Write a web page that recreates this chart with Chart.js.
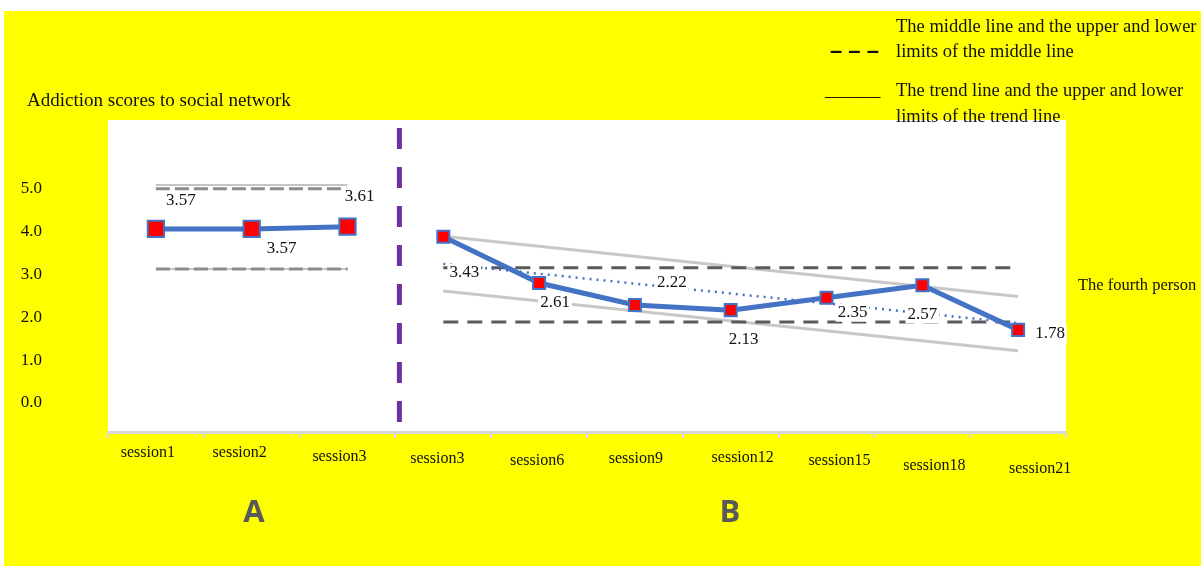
<!DOCTYPE html>
<html>
<head>
<meta charset="utf-8">
<script src="https://cdn.jsdelivr.net/npm/chart.js@4.4.1/dist/chart.umd.min.js"></script>
<style>
  html, body { margin: 0; padding: 0; background: #ffffff; }
  canvas { display: block; }
</style>
</head>
<body>
<canvas id="chart" width="1201" height="566"></canvas>
<script>
// Sessions of the baseline (A) and intervention (B) phases
const sessions = ['session1', 'session2', 'session3', 'session3', 'session6', 'session9', 'session12', 'session15', 'session18', 'session21'];

// Addiction scores of the fourth person
const phaseA = [3.57, 3.57, 3.61, null, null, null, null, null, null, null];
const phaseB = [null, null, null, 3.43, 2.61, 2.22, 2.13, 2.35, 2.57, 1.78];

// Phase A: upper and lower limits of the middle line
const aUpperSolid = [4.35, 4.35, 4.35, null, null, null, null, null, null, null];
const aUpperDashed = [4.28, 4.28, 4.28, null, null, null, null, null, null, null];
const aLower = [2.86, 2.86, 2.86, null, null, null, null, null, null, null];

// Phase B: upper and lower limits of the middle line
const bMiddleUpper = [null, null, null, 2.88, 2.88, 2.88, 2.88, 2.88, 2.88, 2.88];
const bMiddleLower = [null, null, null, 1.92, 1.92, 1.92, 1.92, 1.92, 1.92, 1.92];

// Phase B: trend line and its limits (end points, joined by a straight segment)
const bTrend = [null, null, null, 2.95, null, null, null, null, null, 1.90];
const bTrendUpper = [null, null, null, 3.44, null, null, null, null, null, 2.37];
const bTrendLower = [null, null, null, 2.47, null, null, null, null, null, 1.41];

// Labels printed on the vertical axis
const yTickLabels = ['0.0', '1.0', '2.0', '3.0', '4.0', '5.0'];

const SERIF = '"Liberation Serif", "Times New Roman", serif';
const BLUE = '#4472c4';

// Where each value label sits relative to its marker
const labelOffsets = [[25, -28], [30, 20], [12, -30], [21, 36], [16, 19], [37, -23], [13, 29], [26, 15], [0, 29], [32, 4]];
// Where each session name sits relative to its category centre (x) and below the axis line (y)
const sessionLabelOffsets = [[-8, 21], [-12, 21], [-8, 25], [-6, 27], [-2, 29], [1, 27], [12, 26], [13, 29], [12, 34], [22, 37]];

const pageBackground = {
  id: 'pageBackground',
  beforeDraw(chart) {
    const { ctx, chartArea } = chart;
    ctx.save();
    ctx.fillStyle = '#ffffff';
    ctx.fillRect(0, 0, chart.width, chart.height);
    ctx.fillStyle = '#ffff00';
    ctx.fillRect(4, 11, chart.width - 4, chart.height - 11);
    ctx.fillStyle = '#ffffff';
    ctx.fillRect(chartArea.left, chartArea.top, chartArea.right - chartArea.left, chartArea.bottom - chartArea.top);
    ctx.restore();
  }
};

const phaseDivider = {
  id: 'phaseDivider',
  beforeDatasetsDraw(chart) {
    const { ctx, scales } = chart;
    const x = (scales.x.getPixelForValue(2) + scales.x.getPixelForValue(3)) / 2 + 4;
    ctx.save();
    ctx.strokeStyle = '#7030a0';
    ctx.lineWidth = 5;
    ctx.setLineDash([21, 18]);
    ctx.beginPath();
    ctx.moveTo(x, 128);
    ctx.lineTo(x, 426);
    ctx.stroke();
    ctx.restore();
  }
};

// Session names under the axis, each nudged to its own spot
const sessionLabels = {
  id: 'sessionLabels',
  afterDraw(chart) {
    const { ctx, scales } = chart;
    ctx.save();
    ctx.font = '16px ' + SERIF;
    ctx.fillStyle = '#111111';
    ctx.textAlign = 'center';
    ctx.textBaseline = 'middle';
    chart.data.labels.forEach((name, i) => {
      const [dx, dy] = sessionLabelOffsets[i];
      ctx.fillText(name, scales.x.getPixelForValue(i) + dx, scales.x.top + dy);
    });
    ctx.restore();
  }
};

const valueLabels = {
  id: 'valueLabels',
  afterDatasetsDraw(chart) {
    const { ctx } = chart;
    ctx.save();
    ctx.font = '17px ' + SERIF;
    ctx.textAlign = 'center';
    ctx.textBaseline = 'middle';
    [0, 1].forEach(di => {
      const ds = chart.data.datasets[di];
      const meta = chart.getDatasetMeta(di);
      ds.data.forEach((v, i) => {
        if (v === null) return;
        const el = meta.data[i];
        const [dx, dy] = labelOffsets[i];
        const text = v.toFixed(2);
        const w = ctx.measureText(text).width;
        const cx = el.x + dx, cy = el.y + dy;
        ctx.fillStyle = '#ffffff';
        ctx.fillRect(cx - w / 2 - 2, cy - 9, w + 4, 18);
        ctx.fillStyle = '#111111';
        ctx.fillText(text, cx, cy);
      });
    });
    ctx.restore();
  }
};

const pageTexts = {
  id: 'pageTexts',
  afterDraw(chart) {
    const { ctx } = chart;
    ctx.save();
    ctx.fillStyle = '#111111';
    ctx.textBaseline = 'middle';
    ctx.textAlign = 'left';
    ctx.font = '19px ' + SERIF;
    ctx.fillText('Addiction scores to social network', 27, 101);

    ctx.font = '18.5px ' + SERIF;
    ctx.fillText('The middle line and the upper and lower', 896, 27);
    ctx.fillText('limits of the middle line', 896, 52);
    ctx.fillText('The trend line and the upper and lower', 896, 91);
    ctx.fillText('limits of the trend line', 896, 117);
    ctx.fillText('______', 825, 91);
    ctx.font = 'bold 22px "Liberation Sans", sans-serif';
    ctx.fillText('– – –', 830, 52);

    ctx.font = '16.5px ' + SERIF;
    ctx.fillText('The fourth person', 1078, 286);

    ctx.font = 'bold 31px "Open Sans", "Liberation Sans", sans-serif';
    ctx.fillStyle = '#595959';
    ctx.textAlign = 'center';
    ctx.fillText('A', 254, 513);
    ctx.fillText('B', 730, 513);
    ctx.restore();
  }
};

const flat = (data, color, width, dash) => ({
  data, borderColor: color, borderWidth: width, borderDash: dash || [],
  pointRadius: 0, pointHoverRadius: 0, fill: false, spanGaps: true, yAxisID: 'y'
});

const series = (data, size) => ({
  data, borderColor: BLUE, borderWidth: 5, backgroundColor: '#ff0000',
  pointStyle: 'rect', pointRadius: size, pointBorderColor: BLUE, pointBorderWidth: 2,
  pointBackgroundColor: '#ff0000', pointHoverRadius: size, fill: false, spanGaps: false, yAxisID: 'y'
});

new Chart(document.getElementById('chart'), {
  type: 'line',
  data: {
    labels: sessions,
    datasets: [
      series(phaseA, 11.5),
      series(phaseB, 8.5),
      flat(bTrend, BLUE, 2.5, [2, 5]),
      flat(bMiddleUpper, '#5a5a5a', 3, [15, 9]),
      flat(bMiddleLower, '#5a5a5a', 3, [15, 9]),
      flat(aUpperDashed, '#8c8c8c', 3, [14, 5]),
      flat(aLower, '#8c8c8c', 3, [14, 5]),
      flat(aUpperSolid, '#c4c4c4', 2),
      flat(aLower, '#c4c4c4', 2),
      flat(bTrendUpper, '#c8c8c8', 3),
      flat(bTrendLower, '#c8c8c8', 3)
    ]
  },
  options: {
    responsive: false,
    devicePixelRatio: 1,
    animation: false,
    events: [],
    layout: { padding: { top: 120, right: 135, left: 0, bottom: 0 } },
    plugins: { legend: { display: false }, tooltip: { enabled: false }, title: { display: false } },
    scales: {
      x: {
        offset: true,
        grid: { offset: true, drawOnChartArea: false, drawTicks: true, tickLength: 6, color: '#d9d9d9', lineWidth: 2 },
        border: { color: '#d9d9d9', width: 3 },
        ticks: { display: false, autoSkip: false },
        afterFit: s => { s.height = 134; }
      },
      y: { display: false, min: -0.03, max: 5.5 },
      yAxisLabels: {
        position: 'left',
        min: -0.68,
        max: 6.61,
        grid: { display: false },
        border: { display: false },
        afterBuildTicks: s => { s.ticks = yTickLabels.map((_, i) => ({ value: i })); },
        ticks: { callback: (v, i) => yTickLabels[i], font: { family: SERIF, size: 17 }, color: '#111111', padding: 58 },
        afterFit: s => { s.width = 108; }
      }
    }
  },
  plugins: [pageBackground, phaseDivider, valueLabels, sessionLabels, pageTexts]
});
</script>
</body>
</html>
